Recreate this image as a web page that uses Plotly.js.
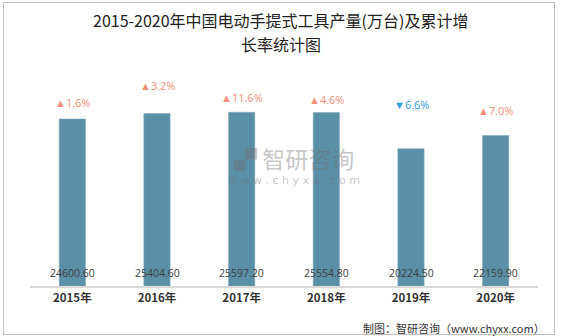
<!DOCTYPE html>
<html>
<head>
<meta charset="utf-8">
<script src="https://cdn.plot.ly/plotly-3.0.1.min.js"></script>
<style>
html,body{margin:0;padding:0;background:#fff;}
#wrap{position:relative;width:562px;height:336px;}
#chart{width:562px;height:336px;}
#frame{position:absolute;left:3px;top:2px;width:550px;height:331px;border:1px solid #c0c0c0;pointer-events:none;}
</style>
</head>
<body>
<div id="wrap"><div id="chart"></div><div id="frame"></div></div>
<script>
const categories = ["2015年","2016年","2017年","2018年","2019年","2020年"];
const production = [24600.60, 25404.60, 25597.20, 25554.80, 20224.50, 22159.90];
const growthRate = [1.6, 3.2, 11.6, 4.6, -6.6, 7.0];
const growthLabelOffset = [17, 28, 15, 13, 44, 25];
const titleLines = ["2015-2020年中国电动手提式工具产量(万台)及累计增", "长率统计图"];

const font = '"Noto Sans CJK SC", "Noto Sans", sans-serif';

const annotations = [];
categories.forEach((c, i) => {
  annotations.push({
    x: c, y: 0, xref: 'x', yref: 'y', yanchor: 'middle', yshift: 13,
    text: production[i].toFixed(2), showarrow: false,
    font: {family: 'Open Sans, sans-serif', size: 10.5, color: '#404040'}
  });
  const up = growthRate[i] >= 0;
  annotations.push({
    x: c, y: production[i], xref: 'x', yref: 'y', yanchor: 'middle',
    yshift: growthLabelOffset[i],
    text: (up ? '▲' : '▼') + Math.abs(growthRate[i]).toFixed(1) + '%',
    showarrow: false,
    font: {family: 'Open Sans, sans-serif', size: 11, color: up ? '#f4907a' : '#2f9ed8'}
  });
});
// title (two lines)
annotations.push({
  xref: 'paper', yref: 'paper', x: 0.494, y: 1.26, xanchor: 'center', yanchor: 'middle',
  text: titleLines[0], showarrow: false,
  font: {family: font, size: 16, color: '#222222'}
});
annotations.push({
  xref: 'paper', yref: 'paper', x: 0.494, y: 1.145, xanchor: 'center', yanchor: 'middle',
  text: titleLines[1], showarrow: false,
  font: {family: font, size: 16, color: '#222222'}
});
// watermark
annotations.push({
  xref: 'paper', yref: 'paper', x: 0.52, y: 0.605, text: '▞ 智研咨询', showarrow: false,
  font: {family: font, size: 23, color: 'rgba(110,110,110,0.4)'}
});
annotations.push({
  xref: 'paper', yref: 'paper', x: 0.52, y: 0.5, text: 'w w w . c h y x x . c o m', showarrow: false,
  font: {family: 'DejaVu Sans, sans-serif', size: 11, color: 'rgba(110,110,110,0.4)'}
});
// footer
annotations.push({
  xref: 'paper', yref: 'paper', x: 1.017, y: -0.2, xanchor: 'right', yanchor: 'middle',
  text: '制图：智研咨询（www.chyxx.com）', showarrow: false,
  font: {family: font, size: 11, color: '#333333'}
});

const trace = {
  type: 'bar', x: categories, y: production, width: 0.31,
  marker: {color: '#5b8fa7', line: {color: '#7fa8bc', width: 0.6}},
  hoverinfo: 'none'
};

const layout = {
  width: 562, height: 336,
  margin: {l: 30, r: 24, t: 75, b: 50},
  paper_bgcolor: '#ffffff', plot_bgcolor: '#ffffff',
  xaxis: {
    showgrid: false, zeroline: false, showline: true, linecolor: '#d9d9d9', linewidth: 2,
    ticks: '', tickfont: {family: font, size: 11.5, color: '#333333', weight: 'bold'},
    fixedrange: true
  },
  yaxis: {
    range: [0, 31085], showgrid: false, zeroline: false, showline: false,
    showticklabels: false, ticks: '', fixedrange: true
  },
  annotations: annotations,
  showlegend: false
};

Plotly.newPlot('chart', [trace], layout, {displayModeBar: false, staticPlot: true});
</script>
</body>
</html>
